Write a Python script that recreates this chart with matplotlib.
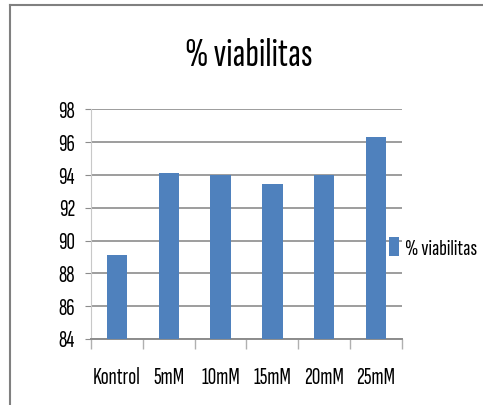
import matplotlib.pyplot as plt
from matplotlib.lines import Line2D

# data
categories = ["Kontrol", "5mM", "10mM", "15mM", "20mM", "25mM"]
viabilitas = [89.1, 94.15, 94.0, 93.45, 94.0, 96.3]
series_name = "% viabilitas"
yticks = [84, 86, 88, 90, 92, 94, 96, 98]

plt.rcParams["font.family"] = ["Sofia Sans Extra Condensed", "DejaVu Sans"]

fig = plt.figure(figsize=(4.83, 4.05), dpi=100)
ax = fig.add_axes([0.1884, 0.163, 0.6439, 0.5667])

x = list(range(len(categories)))
ax.bar(x, viabilitas, width=0.39, color="#4f81bd", label=series_name, zorder=3)

ax.set_ylim(84, 98)
ax.set_xlim(-0.5, len(categories) - 0.5)
ax.set_yticks(yticks)
ax.yaxis.grid(True, color="#8c8c8c", linewidth=1.2, zorder=0)
ax.tick_params(axis="y", length=4.5, color="#8c8c8c", labelsize=17, pad=7)

# category labels centred, tick marks at boundaries
ax.set_xticks(x)
ax.set_xticklabels(categories)
ax.tick_params(axis="x", which="major", length=0, labelsize=17, pad=20)
ax.set_xticks([i - 0.5 for i in range(len(categories) + 1)], minor=True)
ax.tick_params(axis="x", which="minor", length=7, color="#b0b0b0", width=1)

for s in ["top", "right"]:
    ax.spines[s].set_visible(False)
ax.spines["left"].set_color("#c8c8c8")
ax.spines["bottom"].set_color("#8c8c8c")
ax.spines["bottom"].set_linewidth(1.4)

fig.text(0.516, 0.862, "% viabilitas", ha="center", va="center",
         fontsize=29, fontweight="bold")

ax.legend(loc="center left", bbox_to_anchor=(380 / 483, 1 - 248 / 405),
          bbox_transform=fig.transFigure, frameon=False, fontsize=16.5,
          handlelength=0.45, handleheight=0.9, handletextpad=0.25,
          borderaxespad=0)

# outer chart frame (top and left edges visible)
fig.add_artist(Line2D([10 / 483, 10 / 483], [0, 1 - 4.5 / 405],
                      transform=fig.transFigure, color="#808080", lw=1.5))
fig.add_artist(Line2D([10 / 483, 1], [1 - 4.5 / 405, 1 - 4.5 / 405],
                      transform=fig.transFigure, color="#808080", lw=1.5))

fig.savefig("out.png", dpi=100)
